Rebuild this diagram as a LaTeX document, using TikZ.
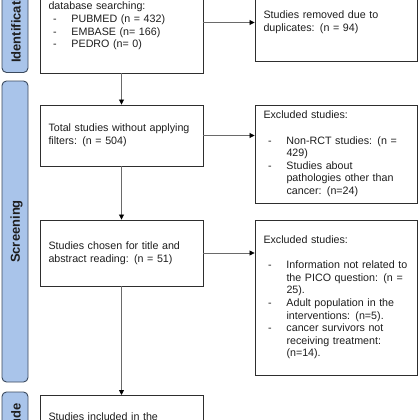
\documentclass[tikz,border=0pt]{standalone}
\usepackage{fontspec}
\setmainfont{Liberation Sans}
\usetikzlibrary{arrows.meta,calc}
\definecolor{sidefill}{HTML}{A9C4EA}
\definecolor{sidedraw}{HTML}{3B4A5E}
\definecolor{boxdraw}{HTML}{2E2E2E}
\definecolor{arrgray}{HTML}{6A6A6A}
\definecolor{txt}{HTML}{1E1E1E}
\newcommand\dli[1]{\hspace*{4.5pt}\makebox[18.5pt][l]{-}#1}
\newcommand\cli[1]{\hspace*{23pt}#1}
\begin{document}
\begin{tikzpicture}[x=1pt,y=-1pt,
 box/.style={draw=boxdraw,line width=0.9pt,rectangle,inner xsep=8.5pt,inner ysep=0pt,
   align=left,text=txt,font=\fontsize{10.7}{12.6}\selectfont},
 side/.style={draw=sidedraw,fill=sidefill,line width=0.9pt,rounded corners=4.5pt},
 sidelabel/.style={rotate=90,inner sep=0pt,font=\fontsize{13}{13}\selectfont\bfseries,text=txt},
 arr/.style={draw=arrgray,line width=0.8pt,-{Triangle[length=5pt,width=5pt,color=black,fill=black]}}]
\useasboundingbox (0,0) rectangle (420,420);
\clip (0,0) rectangle (420,420);
\fill[white] (0,0) rectangle (420,420);

% side bars
\draw[side] (2,-25) rectangle (28,72.5);
\draw[side] (2,81) rectangle (28,382);
\draw[side] (2,392) rectangle (28,480);
\node[sidelabel] (lid) at (16,22.5) {Identification};
\node[sidelabel] (lsc) at (16.5,231.5) {Screening};
\node[sidelabel] (lin) at (16,426) {Include};

% main column
\node[box,minimum width=163pt,minimum height=106.5pt,text width=146pt] (b1) at (121.5,19.75)
 {Records identified through\\database searching:\\\dli{PUBMED (n = 432)}\\\dli{EMBASE (n= 166)}\\\dli{PEDRO (n= 0)}};
\node[box,minimum width=163pt,minimum height=61pt,text width=146pt] (b2) at (121.5,135.5)
 {Total studies without applying\\filters: (n = 504)};
\node[box,minimum width=163pt,minimum height=66pt,text width=146pt] (b3) at (121.5,253)
 {Studies chosen for title and\\abstract reading: (n = 51)};
\node[box,minimum width=163pt,inner ysep=17pt,text width=146pt,anchor=north] (b4) at (121.5,395)
 {Studies included in the};

% right column
\node[box,minimum width=162pt,minimum height=77pt,text width=145pt] (r1) at (336,22.5)
 {Studies removed due to\\duplicates: (n = 94)};
\node[box,minimum width=162pt,minimum height=98pt,text width=145pt] (r2) at (336,154)
 {Excluded studies:\\[12.6pt]\dli{Non-RCT studies: (n =}\\\cli{429)}\\\dli{Studies about}\\\cli{pathologies other than}\\\cli{cancer: (n=24)}};
\node[box,minimum width=162pt,minimum height=155pt,text width=145pt] (r3) at (336,297.5)
 {Excluded studies:\\[12.6pt]\dli{Information not related to}\\\cli{the PICO question: (n =}\\\cli{25).}\\\dli{Adult population in the}\\\cli{interventions: (n=5).}\\\dli{cancer survivors not}\\\cli{receiving treatment:}\\\cli{(n=14).}};

% connectors
\draw[arr] (b1) -- (b2);
\draw[arr] (b2) -- (b3);
\draw[arr] (b3) -- (b4);
\draw[arr] (b1.east |- r1.west) -- (r1.west);
\draw[arr] (b2.east) -- (b2.east -| r2.west);
\draw[arr] (b3.east) -- (b3.east -| r3.west);
\end{tikzpicture}
\end{document}
